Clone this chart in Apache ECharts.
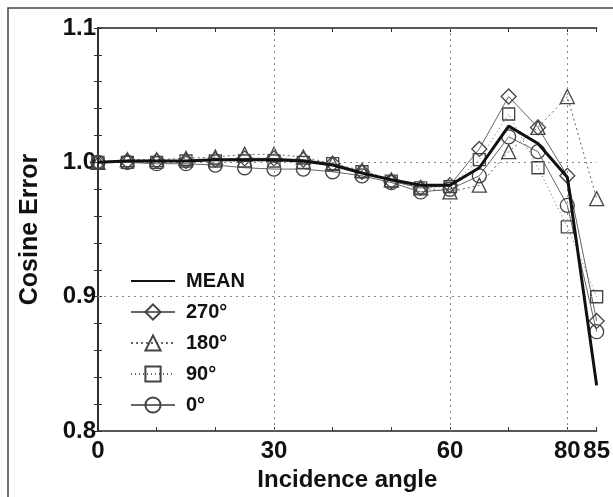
<!DOCTYPE html>
<html>
<head>
<meta charset="utf-8">
<script src="https://cdn.jsdelivr.net/npm/echarts@6/dist/echarts.min.js"></script>
<style>html,body{margin:0;padding:0;background:#fff;}#c{width:613px;height:497px;}</style>
</head>
<body>
<div id="c"></div>
<script>
// Incidence angles (degrees)
const angles = [0,5,10,15,20,25,30,35,40,45,50,55,60,65,70,75,80,85];
// Series values
const meanVals = [1.000,1.001,1.001,1.001,1.002,1.002,1.002,1.001,0.998,0.992,0.987,0.983,0.983,0.996,1.027,1.014,0.989,0.834];
const az270 = [1.000,1.001,1.001,1.001,1.002,1.003,1.003,1.002,0.999,0.993,0.986,0.981,0.983,1.010,1.049,1.026,0.990,0.882];
const az180 = [1.000,1.002,1.002,1.003,1.004,1.006,1.006,1.004,0.999,0.994,0.987,0.981,0.978,0.983,1.008,1.026,1.049,0.973];
const az90  = [1.000,1.000,1.000,1.001,1.001,1.001,1.001,1.000,0.999,0.993,0.986,0.981,0.982,1.002,1.036,0.996,0.952,0.900];
const az0   = [1.000,1.000,0.999,0.999,0.998,0.996,0.995,0.995,0.993,0.990,0.985,0.978,0.980,0.990,1.019,1.008,0.968,0.874];
const seriesNames = ['MEAN','270°','180°','90°','0°'];
// Tick labels
const xTickLabels = [0,30,60,80,85];
const yTickLabels = [0.8,0.9,1.0,1.1];
const xGridValues = [30,60,80];
const yGridValues = [1.0,0.9];

const pair = arr => angles.map((a,i)=>[a,arr[i]]);
const FONT = 'Liberation Sans';
const mk = '#444';

const chart = echarts.init(document.getElementById('c'), null, {renderer:'canvas'});

const tickCommon = {show:true, inside:true, length:4, lineStyle:{color:'#333', width:1}};
const lineCommon = {show:true, lineStyle:{color:'#222', width:1.5}};

function markerSeries(name, data, symbol, size, dash){
  return {
    name, type:'line', data: pair(data), symbol, symbolSize:size,
    showSymbol:true, z:3,
    lineStyle:{color:'#666', width:1, type:dash},
    itemStyle:{color:'rgba(255,255,255,0)', borderColor:mk, borderWidth:1.3},
    emphasis:{disabled:true}, animation:false
  };
}

chart.setOption({
  animation:false,
  backgroundColor:'#fff',
  grid:{left:98, right:11, top:28, bottom:65.5, containLabel:false},
  graphic:[{type:'rect', shape:{x:8, y:8, width:700, height:600}, style:{fill:'none', stroke:'#444', lineWidth:1.5}, silent:true, z:-1}],
  legend:{
    orient:'vertical', left:125, top:266, itemWidth:44, itemHeight:19, itemGap:11,
    data:seriesNames.map(n => n==='MEAN'
      ? {name:n, itemStyle:{color:'rgba(0,0,0,0)', borderWidth:0, opacity:0}}
      : {name:n}),
    textStyle:{fontSize:20, fontFamily:FONT, fontWeight:'bold', color:'#111', padding:[0,0,0,6]},
    selectedMode:false
  },
  xAxis:[{
    type:'value', min:0, max:85, interval:10, position:'bottom',
    name:'Incidence angle', nameLocation:'middle', nameGap:32,
    nameTextStyle:{fontSize:24, fontFamily:FONT, fontWeight:'bold', color:'#111'},
    axisLine:lineCommon, axisTick:tickCommon,
    axisLabel:{show:true, fontSize:24, fontFamily:FONT, fontWeight:'bold', color:'#111', margin:8,
      showMaxLabel:true, showMinLabel:true,
      formatter:v => xTickLabels.indexOf(Math.round(v))>=0 ? String(Math.round(v)) : ''},
    splitLine:{show:false}
  },{
    type:'value', min:0, max:85, interval:10, position:'top',
    axisLine:lineCommon, axisTick:tickCommon, axisLabel:{show:false}, splitLine:{show:false}
  }],
  yAxis:[{
    type:'value', min:0.8, max:1.1, interval:0.02, position:'left',
    name:'Cosine Error', nameLocation:'middle', nameGap:55, nameRotate:90,
    nameTextStyle:{fontSize:25, fontFamily:FONT, fontWeight:'bold', color:'#111'},
    axisLine:lineCommon, axisTick:tickCommon,
    axisLabel:{show:true, fontSize:24, fontFamily:FONT, fontWeight:'bold', color:'#111', margin:2,
      formatter:v => {
        const m = yTickLabels.find(t=>Math.abs(t-v)<1e-6);
        return m!==undefined ? m.toFixed(1) : '';
      }},
    splitLine:{show:false}
  },{
    type:'value', min:0.8, max:1.1, interval:0.02, position:'right',
    axisLine:lineCommon, axisTick:tickCommon, axisLabel:{show:false}, splitLine:{show:false}
  }],
  series:[
    {
      name:'grid', type:'line', data:[], z:1, silent:true,
      markLine:{
        silent:true, symbol:'none', animation:false,
        label:{show:false},
        lineStyle:{color:'#888', width:1, type:[2,4]},
        data: xGridValues.map(v=>({xAxis:v})).concat(yGridValues.map(v=>({yAxis:v})))
      }
    },
    markerSeries('270°', az270, 'diamond', 15, 'solid'),
    markerSeries('180°', az180, 'triangle', 14, [2,3]),
    markerSeries('90°', az90, 'rect', 12, [1,3]),
    markerSeries('0°', az0, 'circle', 14, 'solid'),
    {
      name:'MEAN', type:'line', data: pair(meanVals), symbol:'none', z:5,
      lineStyle:{color:'#111', width:3}, itemStyle:{color:'#111'},
      emphasis:{disabled:true}
    }
  ]
});
</script>
</body>
</html>
